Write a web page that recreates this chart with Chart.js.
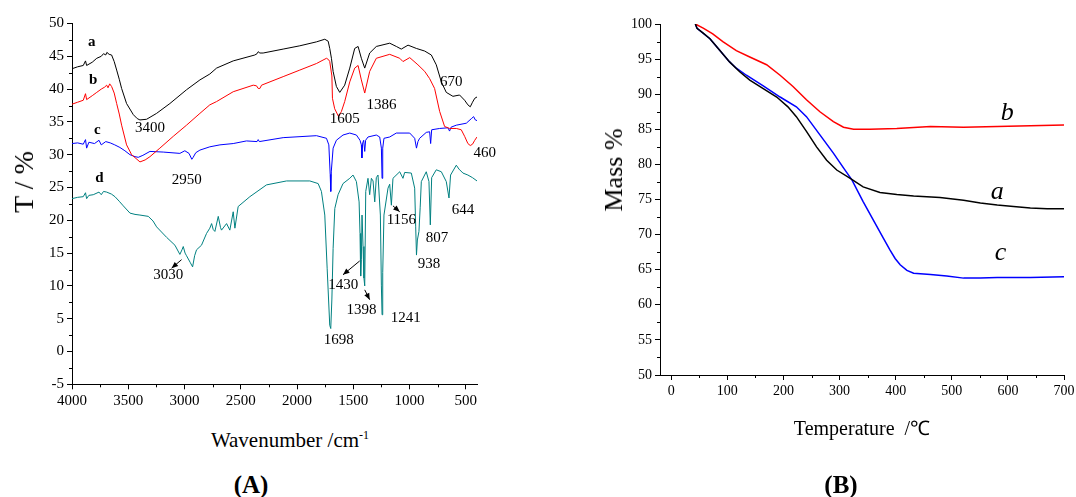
<!DOCTYPE html>
<html lang="en">
<head>
<meta charset="UTF-8">
<title>FTIR and TGA</title>
<script src="https://cdn.jsdelivr.net/npm/chart.js"></script>
<style>
  body { margin: 0; background: #fff; }
  #wrap { position: relative; width: 1076px; height: 497px; overflow: hidden; font-family: "Liberation Serif", serif; color: #000; }
  canvas { position: absolute; top: 0; }
  .lbl { position: absolute; white-space: nowrap; transform: translate(-50%, -50%); }
  .rot { transform: translate(-50%, -50%) rotate(-90deg); }
</style>
</head>
<body>
<div id="wrap">
  <canvas id="ftir" width="540" height="420" style="left:0"></canvas>
  <canvas id="tga" width="536" height="420" style="left:540px"></canvas>
  <div class="lbl rot" style="left:24px; top:182px; font-size:28px;">T / %</div>
  <div class="lbl" style="left:290px; top:440px; font-size:21px;">Wavenumber /cm<sup style="font-size:12px">-1</sup></div>
  <div class="lbl" style="left:251px; top:485px; font-size:25px; font-weight:bold;">(A)</div>
  <div class="lbl rot" style="left:614px; top:170px; font-size:26px;">Mass %</div>
  <div class="lbl" style="left:862px; top:427px; font-size:20px;">Temperature &nbsp;/℃</div>
  <div class="lbl" style="left:841px; top:485px; font-size:25px; font-weight:bold;">(B)</div>
</div>
<script>
// ---- FTIR spectra (wavenumber, transmittance %) ----
const wnA = [4000,3950,3900,3880,3870,3820,3780,3740,3720,3700,3690,3670,3648,3625,3603,3580,3559,3515,3455,3420,3396,3337,3248,3130,2982,2863,2775,2715,2567,2375,2355,2345,2330,2301,2123,1975,1827,1753,1723,1709,1694,1679,1650,1620,1576,1531,1487,1457,1428,1398,1354,1295,1176,1117,1073,1013,939,865,806,762,717,673,614,555,510,481,460,440,420,400];
const tA  = [43.1,43.4,43.6,44.3,43.6,44.1,44.7,45.0,45.4,45.2,45.6,45.3,45.2,44.2,42.9,41.5,40.1,37.8,36.1,35.5,35.3,35.4,36.3,37.8,39.9,41.4,42.3,43.2,44.3,45.2,45.4,45.7,45.5,45.5,46.1,46.6,47.2,47.6,47.3,46.2,44.7,42.7,40.4,39.5,40.6,43.2,46.2,46.5,44.7,43.2,45.5,46.5,47.0,46.5,46.1,46.7,46.2,45.8,45.2,43.7,41.1,39.5,38.9,39.1,38.3,37.6,37.3,38.0,38.6,38.8];

const wnB = [4000,3950,3900,3880,3870,3820,3780,3740,3710,3692,3680,3665,3648,3625,3603,3580,3559,3515,3470,3396,3350,3307,3219,3100,2982,2863,2775,2715,2567,2389,2360,2345,2330,2315,2123,1975,1827,1738,1720,1709,1690,1685,1665,1630,1605,1576,1531,1487,1457,1428,1398,1354,1295,1176,1087,1058,998,925,865,821,777,732,688,643,584,540,510,481,460,440,420,400];
const tB  = [37.7,38.0,38.3,39.3,38.4,39.0,39.5,40.0,40.3,40.6,40.2,40.8,40.4,39.4,37.8,36.2,34.5,31.5,30.0,28.9,29.2,29.7,31.0,32.8,34.5,36.3,37.6,38.1,39.6,40.6,40.5,40.1,40.1,40.6,41.9,42.9,43.9,44.7,44.5,44.2,42.0,38.6,37.0,35.8,36.6,38.1,41.1,43.2,43.6,41.4,39.4,42.7,44.7,45.3,44.7,44.2,44.8,43.7,42.7,41.6,40.1,36.6,34.3,34.0,34.0,33.8,32.8,31.7,31.4,31.6,32.2,32.7];

const wnC = [4000,3950,3900,3880,3870,3850,3800,3760,3740,3700,3660,3620,3574,3530,3485,3440,3411,3370,3307,3189,3041,2997,2960,2935,2923,2900,2863,2775,2685,2567,2449,2355,2345,2335,2123,1827,1738,1717,1705,1700,1695,1679,1650,1591,1531,1472,1440,1428,1423,1416,1407,1398,1390,1369,1295,1265,1250,1244,1238,1227,1176,1117,998,954,938,925,910,851,821,812,803,732,658,644,630,584,495,450,430,415,400];
const tC  = [31.7,31.8,31.6,32.3,31.0,31.9,31.7,32.2,31.5,32.0,31.8,31.5,31.1,30.6,30.0,29.7,29.6,29.9,30.5,30.4,30.2,30.6,30.2,29.3,29.6,30.3,30.7,31.2,31.5,31.7,32.1,32.0,32.3,32.0,32.6,32.9,32.5,31.5,27.0,24.4,27.5,31.0,32.2,33.0,33.3,33.0,32.2,31.5,29.5,31.8,32.2,30.5,32.2,32.7,33.0,32.7,31.0,26.4,31.0,32.5,32.7,33.3,33.3,32.5,31.0,32.0,32.5,33.4,33.5,31.7,33.8,34.0,34.1,33.6,34.2,34.5,34.8,35.5,35.8,35.3,35.2];

const wnD = [4000,3950,3900,3880,3870,3850,3811,3760,3740,3720,3692,3650,3618,3580,3544,3485,3440,3396,3322,3280,3248,3159,3085,3041,3020,3011,2995,2982,2950,2928,2910,2893,2849,2804,2775,2759,2745,2730,2700,2680,2671,2626,2597,2567,2552,2523,2419,2271,2093,1886,1812,1783,1753,1732,1709,1700,1690,1679,1664,1635,1591,1531,1502,1472,1448,1440,1434,1428,1422,1413,1405,1398,1389,1369,1354,1339,1324,1309,1295,1280,1259,1250,1244,1238,1227,1191,1176,1161,1147,1087,1058,1043,984,954,945,938,930,916,905,895,851,827,815,803,762,717,673,649,635,584,560,525,481,440,400];
const tD  = [23.3,23.5,23.6,24.2,23.3,23.8,23.9,24.3,23.9,24.4,24.3,24.0,23.6,22.9,22.2,21.1,20.9,20.8,20.6,19.9,19.0,17.4,16.2,14.8,15.6,16.0,15.0,14.6,13.6,12.9,14.6,15.5,16.2,18.0,18.8,19.5,18.6,18.3,20.6,18.9,18.5,19.5,18.5,21.3,18.8,22.1,23.6,25.4,26.0,26.0,25.6,24.4,20.8,12.7,4.0,3.5,8.0,15.7,21.8,23.9,25.6,26.4,26.9,25.9,22.8,18.0,11.5,14.0,20.8,16.0,11.2,10.0,24.4,26.4,23.9,26.4,26.0,22.8,26.5,26.9,20.8,10.0,5.6,12.0,20.8,24.9,25.5,22.3,26.4,27.4,26.4,27.3,27.2,24.9,19.0,14.7,17.0,18.3,22.0,25.9,27.4,25.9,19.3,26.5,27.7,27.4,25.9,23.4,26.9,28.4,27.8,27.2,26.9,26.5,26.0];

const ftirTicksX = [4000,3500,3000,2500,2000,1500,1000,500];
const ftirMinorX = [3750,3250,2750,2250,1750,1250,750];
const ftirMinorY = [-2.5,2.5,7.5,12.5,17.5,22.5,27.5,32.5,37.5,42.5,47.5];

// peak labels: text, wavenumber, T
const ftirNotes = [
  ['3400',3307,34.0],['2950',2981,26.1],['3030',3145,11.7],['1605',1576,35.5],['1386',1250,37.6],
  ['670',628,41.1],['460',332,30.3],['1156',1072,20.0],['807',755,17.3],['938',826,13.4],
  ['644',525,21.6],['1430',1590,10.1],['1398',1427,6.3],['1241',1034,5.1],['1698',1630,1.8]
];
const ftirCurveNames = [['a',3825,47.2],['b',3811,41.4],['c',3775,33.8],['d',3757,26.4]];
const ftirArrows = [[3026,14.0,3115,12.7],[1443,13.8,1591,11.7],[1398,9.4,1354,7.9],[1147,22.2,1087,21.3]];

// ---- TGA curves (temperature C, mass %) ----
const tempA = [43,46,57,69,86,104,122,140,164,188,208,223,241,259,277,295,319,342,372,402,432,479,521,551,581,610,640,670,700];
const massA = [100,99.4,98.7,97.9,96.3,94.6,93.2,92.0,90.8,89.6,88.2,86.8,84.7,82.5,80.6,79.2,78.0,76.8,76.0,75.7,75.5,75.3,74.9,74.5,74.2,74.0,73.8,73.7,73.7];
const tempB = [43,57,74,92,116,140,170,194,217,241,265,289,307,325,354,402,462,521,581,640,700];
const massB = [100,99.4,98.6,97.5,96.2,95.3,94.2,92.7,91.1,89.2,87.5,86.1,85.3,85.0,85.0,85.1,85.4,85.3,85.4,85.5,85.6];
const tempC = [43,46,69,86,104,116,134,164,194,223,241,265,289,307,322,342,360,378,390,399,408,420,432,462,491,521,551,581,610,640,700];
const massC = [100,99.4,97.9,96.3,94.6,93.7,92.7,91.2,89.6,88.2,86.8,84.2,81.6,79.5,77.8,74.7,72.1,69.5,67.8,66.6,65.7,64.9,64.5,64.3,64.1,63.8,63.8,63.9,63.9,63.9,64.0];
const tgaTicksX = [0,100,200,300,400,500,600,700];
const tgaMinorX = [50,150,250,350,450,550,650];
const tgaMinorY = [52.5,57.5,62.5,67.5,72.5,77.5,82.5,87.5,92.5,97.5];
const tgaCurveNames = [['a',581,76.1],['b',599,87.3],['c',587,67.3]];

function pts(xs, ys) { return xs.map((x, i) => ({ x: x, y: ys[i] })); }

const serif = '"Liberation Serif", "Times New Roman", serif';
Chart.defaults.font.family = serif;
Chart.defaults.color = '#000';

// short minor ticks on the two axes
const minorTicks = {
  id: 'minorTicks',
  afterDraw(chart, args, opts) {
    const ctx = chart.ctx, ca = chart.chartArea, sx = chart.scales.x, sy = chart.scales.y;
    ctx.save();
    ctx.strokeStyle = '#000';
    ctx.lineWidth = 1;
    ctx.beginPath();
    opts.x.forEach(v => {
      const px = Math.round(sx.getPixelForValue(v)) + 0.5;
      ctx.moveTo(px, ca.bottom); ctx.lineTo(px, ca.bottom + 3);
    });
    opts.y.forEach(v => {
      const py = Math.round(sy.getPixelForValue(v)) + 0.5;
      ctx.moveTo(ca.left, py); ctx.lineTo(ca.left - 3, py);
    });
    ctx.stroke();
    ctx.restore();
  }
};

// text labels and arrows placed in data coordinates
const notes = {
  id: 'notes',
  afterDatasetsDraw(chart, args, opts) {
    const ctx = chart.ctx, sx = chart.scales.x, sy = chart.scales.y;
    ctx.save();
    ctx.fillStyle = '#000';
    ctx.textAlign = 'center';
    ctx.textBaseline = 'middle';
    (opts.groups || []).forEach(g => {
      ctx.font = g.font;
      g.items.forEach(n => ctx.fillText(n[0], sx.getPixelForValue(n[1]), sy.getPixelForValue(n[2])));
    });
    ctx.strokeStyle = '#000';
    ctx.lineWidth = 1;
    (opts.arrows || []).forEach(a => {
      const x1 = sx.getPixelForValue(a[0]), y1 = sy.getPixelForValue(a[1]);
      const x2 = sx.getPixelForValue(a[2]), y2 = sy.getPixelForValue(a[3]);
      const ang = Math.atan2(y2 - y1, x2 - x1);
      ctx.beginPath(); ctx.moveTo(x1, y1); ctx.lineTo(x2, y2); ctx.stroke();
      ctx.beginPath();
      ctx.moveTo(x2, y2);
      ctx.lineTo(x2 - 7 * Math.cos(ang - 0.4), y2 - 7 * Math.sin(ang - 0.4));
      ctx.lineTo(x2 - 7 * Math.cos(ang + 0.4), y2 - 7 * Math.sin(ang + 0.4));
      ctx.closePath(); ctx.fill();
    });
    ctx.restore();
  }
};

function fixWidth(w) {
  return s => { s.width = w; s.paddingTop = 0; s.paddingBottom = 0; s.paddingLeft = 0; s.paddingRight = 0; };
}
function fixHeight(h) {
  return s => { s.height = h; s.paddingTop = 0; s.paddingBottom = 0; s.paddingLeft = 0; s.paddingRight = 0; };
}
function line(data, color, width) {
  return { data: data, borderColor: color, borderWidth: width, pointRadius: 0, showLine: true, tension: 0, fill: false };
}
const plain = v => String(v);

new Chart(document.getElementById('ftir'), {
  type: 'scatter',
  data: {
    datasets: [
      line(pts(wnA, tA), '#000000', 1),
      line(pts(wnB, tB), '#ff0000', 1),
      line(pts(wnC, tC), '#0000ff', 1),
      line(pts(wnD, tD), '#008080', 1)
    ]
  },
  plugins: [minorTicks, notes],
  options: {
    responsive: false,
    animation: false,
    events: [],
    layout: { padding: { left: 20, right: 63, top: 23.5, bottom: 5.7 } },
    plugins: {
      legend: { display: false },
      tooltip: { enabled: false },
      minorTicks: { x: ftirMinorX, y: ftirMinorY },
      notes: {
        groups: [
          { font: '15px ' + serif, items: ftirNotes },
          { font: 'bold 15px ' + serif, items: ftirCurveNames }
        ],
        arrows: ftirArrows
      }
    },
    scales: {
      x: {
        type: 'linear', reverse: true, min: 400, max: 4000,
        afterBuildTicks: s => { s.ticks = ftirTicksX.map(v => ({ value: v })); },
        afterFit: fixHeight(30),
        grid: { drawOnChartArea: false, color: '#000', tickLength: 5 },
        border: { color: '#000', width: 1 },
        ticks: { font: { size: 15 }, padding: 3, maxRotation: 0, autoSkip: false, callback: plain }
      },
      y: {
        min: -5, max: 50,
        ticks: { stepSize: 5, font: { size: 15 }, padding: 3, callback: plain },
        afterFit: fixWidth(52),
        grid: { drawOnChartArea: false, color: '#000', tickLength: 5 },
        border: { color: '#000', width: 1 }
      }
    }
  }
});

new Chart(document.getElementById('tga'), {
  type: 'scatter',
  data: {
    datasets: [
      line(pts(tempA, massA), '#000000', 1.5),
      line(pts(tempB, massB), '#ff0000', 1.5),
      line(pts(tempC, massC), '#0000ff', 1.5)
    ]
  },
  plugins: [minorTicks, notes],
  options: {
    responsive: false,
    animation: false,
    events: [],
    layout: { padding: { left: 74, right: 12, top: 24, bottom: 15 } },
    plugins: {
      legend: { display: false },
      tooltip: { enabled: false },
      minorTicks: { x: tgaMinorX, y: tgaMinorY },
      notes: { groups: [{ font: 'italic 26px ' + serif, items: tgaCurveNames }] }
    },
    scales: {
      x: {
        type: 'linear', min: -20, max: 700,
        afterBuildTicks: s => { s.ticks = tgaTicksX.map(v => ({ value: v })); },
        afterFit: fixHeight(30),
        grid: { drawOnChartArea: false, color: '#000', tickLength: 5 },
        border: { color: '#000', width: 1 },
        ticks: { font: { size: 14 }, padding: 3, maxRotation: 0, autoSkip: false, callback: plain }
      },
      y: {
        min: 50, max: 100,
        ticks: { stepSize: 5, font: { size: 14 }, padding: 3, callback: plain },
        afterFit: fixWidth(46),
        grid: { drawOnChartArea: false, color: '#000', tickLength: 5 },
        border: { color: '#000', width: 1 }
      }
    }
  }
});
</script>
</body>
</html>
